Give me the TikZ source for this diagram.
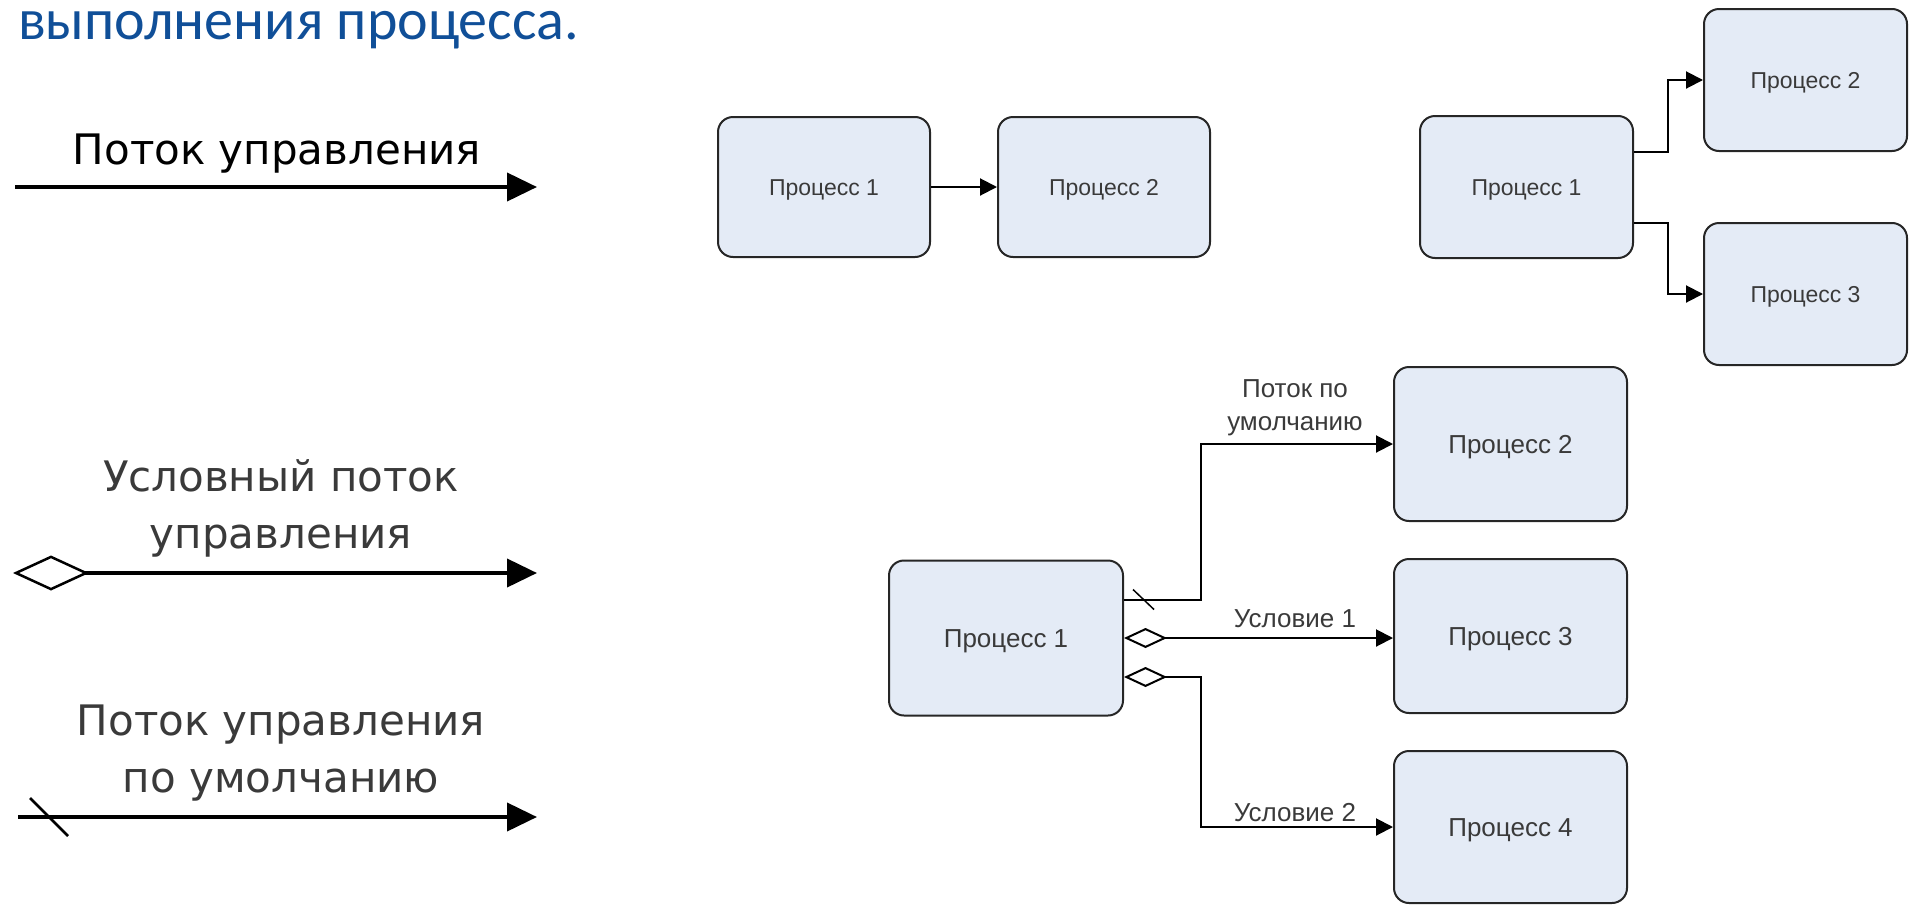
\documentclass[tikz,border=0pt]{standalone}
\usepackage{fontspec}
\setmainfont{Liberation Sans}
\newfontfamily\titlefont{Carlito}
\newfontfamily\legendfont{DejaVu Sans}
\usetikzlibrary{arrows.meta,positioning}
\definecolor{procfill}{RGB}{228,235,246}
\definecolor{titleblue}{RGB}{16,79,152}
\definecolor{txtgray}{RGB}{58,58,58}

\begin{document}
\begin{tikzpicture}
[x=1pt,y=-1pt,
proc/.style={draw=black!85,line width=2pt,rounded corners=15pt,fill=procfill,
  minimum width=212pt,minimum height=140pt,inner sep=0pt,text=txtgray,
  font=\fontsize{23}{27}\selectfont,text height=16.5pt,text depth=0pt},
bigproc/.style={proc,minimum width=233pt,minimum height=154pt,
  font=\fontsize{26}{30}\selectfont,text height=18.6pt},
flow/.style={line width=2pt,-{Triangle[length=17pt,width=17pt]}},
cond/.style={line width=2pt,{Diamond[open,length=43pt,width=20pt]}-{Triangle[length=17pt,width=17pt]}},
slash/.style={line width=1.5pt},
lbl/.style={inner sep=0pt,text=txtgray,font=\fontsize{26}{33}\selectfont},
legtext/.style={inner sep=0pt,anchor=base,font=\legendfont\fontsize{42}{57}\selectfont},
legline/.style={line width=4pt,-{Triangle[length=30pt,width=28pt]}}]
\useasboundingbox (0,0) rectangle (1909,905);

% title
\node[anchor=base west,inner sep=0pt,text=titleblue,
  font=\titlefont\fontsize{58}{60}\selectfont] (title) at (18,39) {выполнения процесса.};

% legend
\node[legtext] (leg1) at (277,164) {Поток управления};
\coordinate (leg1a) at (15,187);
\coordinate (leg1b) at (537,187);
\draw[legline] (leg1a) -- (leg1b);

\node[legtext,text=txtgray] (leg2a) at (281,491) {Условный поток};
\node[legtext,text=txtgray] (leg2b) at (281,548) {управления};
\coordinate (leg2s) at (13,573);
\coordinate (leg2e) at (537,573);
\draw[legline,{Diamond[open,length=76pt,width=35pt,line width=2.5pt]}-{Triangle[length=30pt,width=28pt]}] (leg2s) -- (leg2e);

\node[legtext,text=txtgray] (leg3a) at (281,735) {Поток управления};
\node[legtext,text=txtgray] (leg3b) at (281,792) {по умолчанию};
\coordinate (leg3s) at (18,817);
\coordinate (leg3e) at (537,817);
\draw[legline] (leg3s) -- (leg3e);
\draw[slash,line width=2.5pt] (30,798) -- (68,836);

% sequence
\node[proc] (a1) at (824,187) {Процесс 1};
\node[proc] (a2) at (1104,187) {Процесс 2};
\draw[flow] (a1.east) -- (a2.west);

% fork
\node[proc,minimum width=213pt,minimum height=142pt] (b1) at (1526.5,187) {Процесс 1};
\node[proc,minimum width=203pt,minimum height=142pt] (b2) at (1805.5,80) {Процесс 2};
\node[proc,minimum width=203pt,minimum height=142pt] (b3) at (1805.5,294) {Процесс 3};
\draw[flow] ([yshift=35pt]b1.east) -- ++(34,0) |- (b2.west);
\draw[flow] ([yshift=-36pt]b1.east) -- ++(34,0) |- (b3.west);

% conditions
\node[bigproc,minimum width=234pt,minimum height=155pt] (c1) at (1006,638) {Процесс 1};
\node[bigproc] (c2) at (1510.5,444) {Процесс 2};
\node[bigproc] (c3) at (1510.5,636) {Процесс 3};
\node[bigproc,minimum height=152pt] (c4) at (1510.5,827) {Процесс 4};

\draw[flow] ([yshift=38.5pt]c1.east) -- ++(77,0) |- (c2.west);
\draw[slash] ([xshift=9pt,yshift=48.5pt]c1.east) -- ++(21,20);
\draw[cond] (c1.east) -- (c1.east -| c3.west);
\draw[cond] ([yshift=-39pt]c1.east) -- ++(77,0) |- (c4.west);

\node[lbl,align=center] (dflt) at (1295,408) {Поток по\\умолчанию};
\node[lbl,anchor=base] (if1) at (1295,627) {Условие 1};
\node[lbl,anchor=base] (if2) at (1295,821) {Условие 2};
\end{tikzpicture}
\end{document}
